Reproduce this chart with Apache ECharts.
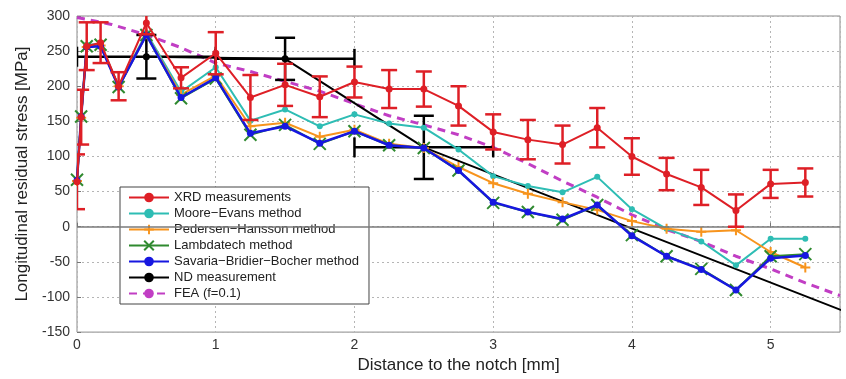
<!DOCTYPE html>
<html>
<head>
<meta charset="utf-8">
<script src="https://cdn.jsdelivr.net/npm/echarts@6/dist/echarts.min.js"></script>
<style>
  html, body { margin: 0; padding: 0; background: #fff; }
  #chart { width: 846px; height: 379px; }
</style>
</head>
<body>
<div id="chart"></div>
<script>
// distances [mm]
let xPts = [0, 0.03, 0.07, 0.17, 0.3, 0.5, 0.75, 1.0, 1.25, 1.5, 1.75, 2.0, 2.25, 2.5, 2.75, 3.0, 3.25, 3.5, 3.75, 4.0, 4.25, 4.5, 4.75, 5.0, 5.25];

let xrdVal = [64, 156, 257, 262, 200, 290, 212, 247, 184, 202, 185, 206, 196, 196, 172, 135, 124, 117, 141, 100, 75, 56, 23, 61, 63];
let xrdErr = [39, 39, 34, 29, 20, 16, 15, 30, 32, 30, 29, 22, 27, 25, 28, 25, 28, 27, 28, 26, 23, 25, 23, 20, 20];

let mooreVal = [66, 156, 259, 260, 200, 276, 192, 227, 151, 167, 143, 160, 147, 141, 110, 72, 58, 49, 71, 25, -3, -21, -55, -17, -17];
let pedersenVal = [65, 155, 256, 258, 200, 274, 188, 215, 143, 148, 128, 138, 118, 112, 85, 62, 47, 35, 24, 8, -3, -7, -5, -36, -58];
let lambdaVal = [67, 157, 257, 259, 199, 273, 183, 211, 131, 145, 118, 136, 116, 112, 80, 34, 21, 10, 31, -12, -42, -60, -90, -42, -39];
let savariaVal = [66, 157, 256, 257, 199, 273, 184, 212, 133, 143, 119, 136, 116, 112, 80, 35, 21, 11, 31, -13, -42, -61, -90, -45, -41];

let ndX = [0.5, 1.5, 2.5, 6.5];
let ndVal = [242, 239, 113, -195];
let ndXErr = [0.5, 0.5, 0.5, 0];
let ndYErr = [31, 30, 45, 0];

let feaX = [0, 0.25, 0.5, 0.75, 1.0, 1.25, 1.5, 1.75, 2.0, 2.25, 2.5, 2.75, 3.0, 3.25, 3.5, 3.75, 4.0, 4.25, 4.5, 4.75, 5.0, 5.25, 5.5];
let feaVal = [298, 288, 273, 255, 233, 221, 207, 193, 175, 158, 145, 131, 113, 90, 65, 42, 17, -4, -21, -42, -60, -80, -98];

let yTicks = [-150, -100, -50, 0, 50, 100, 150, 200, 250, 300];
let xTicks = [0, 1, 2, 3, 4, 5];

let colors = {
  xrd: "#de1f26",
  moore: "#2ebdb4",
  pedersen: "#f7941d",
  lambda: "#2f8a2f",
  savaria: "#1717e0",
  nd: "#000000",
  fea: "#c13ec4"
};

function pairs(xs, ys) {
  return xs.map((x, i) => [x, ys[i]]);
}

// vertical / horizontal error bars with caps
function errorBars(color, cap, width) {
  return function (params, api) {
    let x = api.value(0);
    let y = api.value(1);
    let ey = api.value(2);
    let ex = api.value(3) || 0;
    let st = { stroke: color, lineWidth: width };
    let kids = [];
    if (ey > 0) {
      let t = api.coord([x, y + ey]);
      let b = api.coord([x, y - ey]);
      kids.push({ type: "line", shape: { x1: t[0], y1: t[1], x2: b[0], y2: b[1] }, style: st });
      kids.push({ type: "line", shape: { x1: t[0] - cap, y1: t[1], x2: t[0] + cap, y2: t[1] }, style: st });
      kids.push({ type: "line", shape: { x1: b[0] - cap, y1: b[1], x2: b[0] + cap, y2: b[1] }, style: st });
    }
    if (ex > 0) {
      let l = api.coord([x - ex, y]);
      let r = api.coord([x + ex, y]);
      kids.push({ type: "line", shape: { x1: l[0], y1: l[1], x2: r[0], y2: r[1] }, style: st });
      kids.push({ type: "line", shape: { x1: l[0], y1: l[1] - cap, x2: l[0], y2: l[1] + cap }, style: st });
      kids.push({ type: "line", shape: { x1: r[0], y1: r[1] - cap, x2: r[0], y2: r[1] + cap }, style: st });
    }
    return { type: "group", children: kids };
  };
}

let myChart = echarts.init(document.getElementById("chart"));
let font = "Liberation Sans, Arial, sans-serif";

let option = {
  animation: false,
  textStyle: { fontFamily: font },
  grid: {
    left: 77,
    right: 6,
    top: 16,
    bottom: 45,
    show: true,
    borderColor: "#8a8a8a",
    borderWidth: 1
  },
  legend: {
    orient: "vertical",
    left: 120,
    top: 187,
    padding: [4, 10, 4, 8],
    itemGap: 3,
    itemWidth: 40,
    itemHeight: 12,
    backgroundColor: "#fff",
    borderColor: "#444",
    borderWidth: 1,
    textStyle: { fontFamily: font, fontSize: 13, color: "#222" },
    data: [
      "XRD measurements",
      "Moore\u2212Evans method",
      "Pedersen\u2212Hansson method",
      "Lambdatech method",
      "Savaria\u2212Bridier\u2212Bocher method",
      "ND measurement",
      "FEA (f=0.1)"
    ]
  },
  xAxis: {
    type: "value",
    min: 0,
    max: 5.5,
    interval: 1,
    name: "Distance to the notch [mm]",
    nameLocation: "middle",
    nameGap: 24,
    nameTextStyle: { fontSize: 17, color: "#222", fontFamily: font },
    axisLine: { show: false },
    axisTick: { show: true, inside: true, length: 4, lineStyle: { color: "#777" } },
    axisLabel: {
      fontSize: 14,
      color: "#333",
      margin: 6,
      showMaxLabel: false,
      formatter: function (v) { return xTicks.indexOf(v) >= 0 ? String(v) : ""; }
    },
    splitLine: { show: true, lineStyle: { color: "#b5b5b5", type: [2, 3], width: 1 } }
  },
  yAxis: {
    type: "value",
    min: yTicks[0],
    max: yTicks[yTicks.length - 1],
    interval: 50,
    name: "Longitudinal residual stress [MPa]",
    nameLocation: "middle",
    nameGap: 46,
    nameTextStyle: { fontSize: 17, color: "#222", fontFamily: font },
    axisLine: { show: false },
    axisTick: { show: true, inside: true, length: 4, lineStyle: { color: "#777" } },
    axisLabel: { fontSize: 14, color: "#333", margin: 7 },
    splitLine: { show: true, lineStyle: { color: "#b5b5b5", type: [2, 3], width: 1 } }
  },
  series: [
    {
      name: "FEA (f=0.1)",
      type: "line",
      data: pairs(feaX, feaVal),
      showSymbol: false,
      symbol: "none",
      lineStyle: { color: colors.fea, width: 3, type: [8, 6] },
      itemStyle: { color: colors.fea },
      markLine: {
        silent: true,
        symbol: "none",
        label: { show: false },
        lineStyle: { color: "#7a7a7a", type: "solid", width: 1.5 },
        data: [{ yAxis: 0 }]
      },
      z: 2
    },
    {
      name: "ND measurement",
      type: "line",
      data: pairs(ndX, ndVal),
      clip: true,
      symbol: "circle",
      symbolSize: 7,
      lineStyle: { color: colors.nd, width: 2 },
      itemStyle: { color: colors.nd },
      z: 3
    },
    {
      name: "ND err",
      type: "custom",
      clip: true,
      renderItem: errorBars(colors.nd, 10, 2.5),
      data: ndX.map((x, i) => [x, ndVal[i], ndYErr[i], ndXErr[i]]),
      encode: { x: 0, y: 1 },
      z: 3
    },
    {
      name: "Moore\u2212Evans method",
      type: "line",
      data: pairs(xPts, mooreVal),
      symbol: "circle",
      symbolSize: 6,
      lineStyle: { color: colors.moore, width: 2 },
      itemStyle: { color: colors.moore },
      z: 4
    },
    {
      name: "Pedersen\u2212Hansson method",
      type: "line",
      data: pairs(xPts, pedersenVal),
      symbol: "path://M4,0 L6,0 L6,4 L10,4 L10,6 L6,6 L6,10 L4,10 L4,6 L0,6 L0,4 L4,4 Z",
      symbolSize: 10,
      lineStyle: { color: colors.pedersen, width: 2 },
      itemStyle: { color: colors.pedersen },
      z: 4
    },
    {
      name: "Lambdatech method",
      type: "line",
      data: pairs(xPts, lambdaVal),
      symbol: "path://M0,0 L10,10 M10,0 L0,10",
      symbolSize: 12,
      lineStyle: { color: colors.lambda, width: 2 },
      itemStyle: { color: colors.lambda, borderColor: colors.lambda, borderWidth: 2 },
      z: 4
    },
    {
      name: "Savaria\u2212Bridier\u2212Bocher method",
      type: "line",
      data: pairs(xPts, savariaVal),
      symbol: "circle",
      symbolSize: 7,
      lineStyle: { color: colors.savaria, width: 2.5 },
      itemStyle: { color: colors.savaria },
      z: 5
    },
    {
      name: "XRD measurements",
      type: "line",
      data: pairs(xPts, xrdVal),
      symbol: "circle",
      symbolSize: 7,
      lineStyle: { color: colors.xrd, width: 2 },
      itemStyle: { color: colors.xrd },
      z: 6
    },
    {
      name: "XRD err",
      type: "custom",
      clip: true,
      renderItem: errorBars(colors.xrd, 8, 2.5),
      data: xPts.map((x, i) => [x, xrdVal[i], xrdErr[i], 0]),
      encode: { x: 0, y: 1 },
      z: 6
    }
  ]
};

myChart.setOption(option);
</script>
</body>
</html>
